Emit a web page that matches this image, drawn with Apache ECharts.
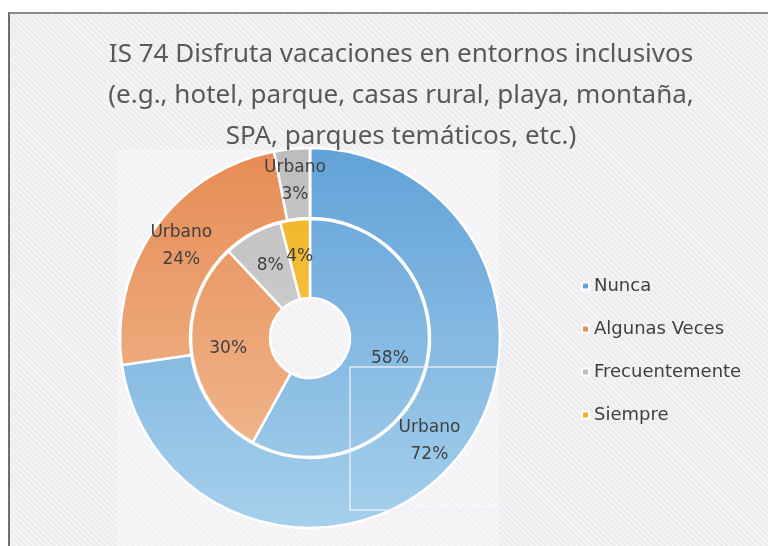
<!DOCTYPE html>
<html>
<head>
<meta charset="utf-8">
<script src="https://cdn.jsdelivr.net/npm/echarts@6/dist/echarts.min.js"></script>
<style>
	html, body { margin: 0; padding: 0; background: #ffffff; }
	#frame {
		position: absolute; left: 8px; top: 12px; width: 780px; height: 560px;
		border-left: 2px solid #6e6e6e; border-top: 2px solid #8a8a8a;
		background: repeating-linear-gradient(45deg, #f4f4f6 0px, #f4f4f6 2px, #ececef 2px, #ececef 4px);
	}
	#chart { position: absolute; left: 0; top: 0; width: 768px; height: 546px; }
</style>
</head>
<body>
<div id="frame"></div>
<div id="chart"></div>
<script>
	// categorias y valores
	var categories = ["Nunca", "Algunas Veces", "Frecuentemente", "Siempre"];
	var innerValues = [58, 30, 8, 4];
	var outerValues = [72, 24, 3, 0];
	var outerName = "Urbano";
	var titleText = "IS 74 Disfruta vacaciones en entornos inclusivos\n(e.g., hotel, parque, casas rural, playa, montaña,\nSPA, parques temáticos, etc.)";

	//colores tipo excel con degradado vertical
	var palette = [
		["#62a2d8", "#a6d0ec"],
		["#e68c55", "#f3bf98"],
		["#bdbdbd", "#dcdcdc"],
		["#f0b321", "#f8cf62"]
	];
	function fill(i) {
		return {
			type: "linear", x: 0, y: 148, x2: 0, y2: 528, global: true,
			colorStops: [{offset: 0, color: palette[i][0]}, {offset: 1, color: palette[i][1]}]
		};
	}
	function makeData(values) {
		return values.map((v, i) => {
			return {
				name: categories[i],
				value: v,
				itemStyle: {color: fill(i)}
			};
		});
	}

	var font = "'DejaVu Sans', sans-serif";
	var chart = echarts.init(document.getElementById("chart"));
	var option = {
		backgroundColor: "transparent",
		animation: false,
		title: {
			text: titleText,
			left: 396, top: 29, textAlign: "center",
			textStyle: {
				color: "#595959", fontFamily: "'Noto Sans', sans-serif", fontSize: 26,
				fontWeight: "normal", lineHeight: 41
			}
		},
		legend: {
			orient: "vertical",
			left: 576, top: 272,
			itemWidth: 7, itemHeight: 7, itemGap: 25,
			icon: "rect",
			textStyle: {color: "#404040", fontFamily: font, fontSize: 18},
			data: categories
		},
		graphic: [{
			type: "rect", z: -10,
			shape: {x: 117, y: 150, width: 382, height: 400},
			style: {fill: "rgba(255,255,255,0.3)"}
		}, {
			type: "rect", z: 100,
			shape: {x: 350, y: 367, width: 150, height: 143},
			style: {fill: "none", stroke: "rgba(235,240,245,0.9)", lineWidth: 1.5}
		}],
		series: [{
			name: "inner",
			type: "pie",
			center: [310, 338],
			radius: [40, 119],
			startAngle: 90,
			clockwise: true,
			avoidLabelOverlap: false,
			itemStyle: {borderColor: "#ffffff", borderWidth: 2.5},
			label: {
				position: "inner",
				formatter: "{c}%",
				color: "#404040", fontFamily: font, fontSize: 17
			},
			labelLine: {show: false},
			emphasis: {disabled: true},
			data: makeData(innerValues)
		}, {
			name: outerName,
			type: "pie",
			center: [310, 338],
			radius: [120, 190],
			startAngle: 90,
			clockwise: true,
			avoidLabelOverlap: false,
			itemStyle: {borderColor: "#ffffff", borderWidth: 2.5},
			label: {
				position: "inner",
				formatter: outerName + "\n{c}%",
				lineHeight: 27,
				color: "#404040", fontFamily: font, fontSize: 17
			},
			labelLine: {show: false},
			emphasis: {disabled: true},
			data: makeData(outerValues)
		}]
	};
	chart.setOption(option);
</script>
</body>
</html>
